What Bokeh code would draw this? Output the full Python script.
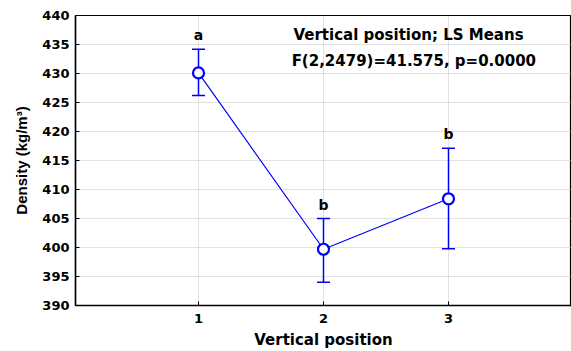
from bokeh.plotting import figure
from bokeh.models import Range1d, FixedTicker, Whisker, TeeHead, ColumnDataSource, Label
from bokeh.core.properties import value
from bokeh.embed import file_html
from bokeh.resources import INLINE

positions = [1, 2, 3]
means = [430.1, 399.7, 408.4]
upper = [434.2, 405.0, 417.1]
lower = [426.2, 394.0, 399.8]
letters = ["a", "b", "b"]
y_ticks = list(range(390, 441, 5))
title1 = "Vertical position; LS Means"
title2 = "F(2,2479)=41.575, p=0.0000"

FONT = "DejaVu Sans"
BLUE = "#0000ff"
FS = "13px"
FL = "15px"

src = ColumnDataSource(dict(x=positions, y=means, up=upper, lo=lower, lab=letters))

p = figure(width=571, height=351, output_backend="svg", toolbar_location=None,
           x_range=Range1d(0.016, 3.984), y_range=Range1d(390, 440),
           min_border_left=75, min_border_right=0, min_border_top=15, min_border_bottom=46)

p.background_fill_color = "white"
p.border_fill_color = "white"
p.outline_line_color = "black"
p.outline_line_width = 1.2

p.xaxis.ticker = FixedTicker(ticks=positions)
p.yaxis.ticker = FixedTicker(ticks=y_ticks)
for ax in (p.xaxis[0], p.yaxis[0]):
    ax.axis_line_color = "black"
    ax.axis_line_width = 1.5
    ax.major_tick_in = 4
    ax.major_tick_out = 0
    ax.minor_tick_line_color = None
    ax.major_label_text_font = FONT
    ax.major_label_text_font_style = "bold"
    ax.major_label_text_font_size = FS
    ax.major_label_text_color = "black"
    ax.axis_label_text_font_style = "bold"
    ax.axis_label_text_color = "black"

p.xaxis.axis_label = "Vertical position"
p.xaxis.axis_label_text_font = FONT
p.xaxis.axis_label_text_font_size = FL
p.yaxis.axis_label = "Density (kg/m³)"
p.yaxis.axis_label_text_font = "Liberation Sans"
p.yaxis.axis_label_text_font_size = "15px"
p.xaxis.major_label_standoff = 8
p.xaxis.axis_label_standoff = 5
p.yaxis.major_label_standoff = 6
p.yaxis.axis_label_standoff = 9

for g in (p.xgrid[0], p.ygrid[0]):
    g.grid_line_color = "#c4c4c4"
    g.grid_line_dash = "1 1"
    g.grid_line_width = 1

p.line("x", "y", source=src, line_color=BLUE, line_width=1.2)
w = Whisker(base="x", upper="up", lower="lo", source=src, line_color=BLUE, line_width=1.5,
            upper_head=TeeHead(size=13, line_color=BLUE, line_width=1.5),
            lower_head=TeeHead(size=13, line_color=BLUE, line_width=1.5))
p.add_layout(w)
p.scatter("x", "y", source=src, marker="circle", size=11, fill_color="white",
          line_color=BLUE, line_width=2.2)

p.text("x", "up", text="lab", source=src, text_font=value(FONT), text_font_style="bold",
       text_font_size="14px", text_align="center", text_baseline="bottom", y_offset=-6,
       text_color="black")

p.add_layout(Label(x=1.76, y=436.7, text=title1, text_font=FONT, text_font_style="bold",
                   text_font_size=FL, text_baseline="middle", text_align="left",
                   text_color="black"))
p.add_layout(Label(x=1.745, y=432.2, text=title2, text_font=FONT, text_font_style="bold",
                   text_font_size=FL, text_baseline="middle", text_align="left",
                   text_color="black"))

open("out.html", "w").write(file_html(p, INLINE))
